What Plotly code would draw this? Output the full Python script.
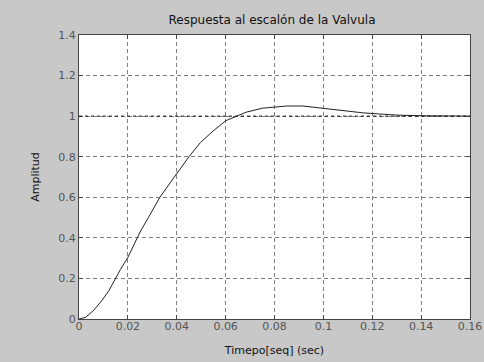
import plotly.graph_objects as go

# Step response data
time_s = [0, 0.0027, 0.0061, 0.0095, 0.0123, 0.0147, 0.017, 0.020, 0.0225, 0.0252,
          0.0284, 0.0331, 0.0393, 0.045, 0.0497, 0.055, 0.060, 0.0644, 0.0684, 0.075,
          0.080, 0.085, 0.0916, 0.100, 0.107, 0.111, 0.1164, 0.1225, 0.1306, 0.140,
          0.150, 0.160]
amplitude = [0, 0.008, 0.044, 0.093, 0.141, 0.195, 0.245, 0.304, 0.369, 0.434,
             0.50, 0.60, 0.705, 0.80, 0.870, 0.928, 0.977, 1.0, 1.0195, 1.039,
             1.045, 1.050, 1.050, 1.038, 1.028, 1.021, 1.016, 1.011, 1.005, 1.002,
             1.0, 1.0]
final_value = 1.0

x_ticks = [0, 0.02, 0.04, 0.06, 0.08, 0.1, 0.12, 0.14, 0.16]
x_tick_labels = ["0", "0.02", "0.04", "0.06", "0.08", "0.1", "0.12", "0.14", "0.16"]
y_ticks = [0, 0.2, 0.4, 0.6, 0.8, 1, 1.2, 1.4]
y_tick_labels = ["0", "0.2", "0.4", "0.6", "0.8", "1", "1.2", "1.4"]

title_text = "Respuesta al escalón de la Valvula"
x_title = "Timepo[seq] (sec)"
y_title = "Amplitud"

fig = go.Figure()
fig.add_trace(go.Scatter(x=time_s, y=amplitude, mode="lines",
                         line=dict(color="#222222", width=1),
                         showlegend=False, hoverinfo="skip"))
fig.add_hline(y=final_value, line=dict(color="#111111", width=1, dash="3px,3px"))

font_family = "DejaVu Sans, Arial, sans-serif"
axis_common = dict(
    showline=True, linecolor="#444444", linewidth=1, mirror="ticks",
    ticks="inside", ticklen=4, tickcolor="#444444",
    showgrid=True, gridcolor="#808080", gridwidth=1, griddash="4px,3px",
    zeroline=False, tickfont=dict(family=font_family, size=11, color="#555555"),
)
fig.update_xaxes(range=[0, 0.16], tickvals=x_ticks, ticktext=x_tick_labels,
                 ticklabelstandoff=-3,
                 title=dict(text=x_title, font=dict(family=font_family, size=11, color="#111111"), standoff=14),
                 **axis_common)
fig.update_yaxes(range=[0, 1.4], tickvals=y_ticks, ticktext=y_tick_labels,
                 title=dict(text=y_title, font=dict(family=font_family, size=11, color="#111111"), standoff=16),
                 **axis_common)
fig.update_xaxes(automargin=False)
fig.update_yaxes(automargin=False)

fig.update_layout(
    width=484, height=362,
    margin=dict(l=79, r=14, t=35, b=43),
    paper_bgcolor="#c8c8c8", plot_bgcolor="#ffffff",
    title=dict(text=title_text, x=0.562, xanchor="center", y=0.945, yanchor="middle",
               font=dict(family=font_family, size=12, color="#111111")),
)
fig.write_html("out.html", config={"displayModeBar": False})

with open("out.html", "r", encoding="utf-8") as f:
    html = f.read()
html = html.replace("<body>", '<body style="margin:0;padding:0;overflow:hidden">', 1)
with open("out.html", "w", encoding="utf-8") as f:
    f.write(html)
